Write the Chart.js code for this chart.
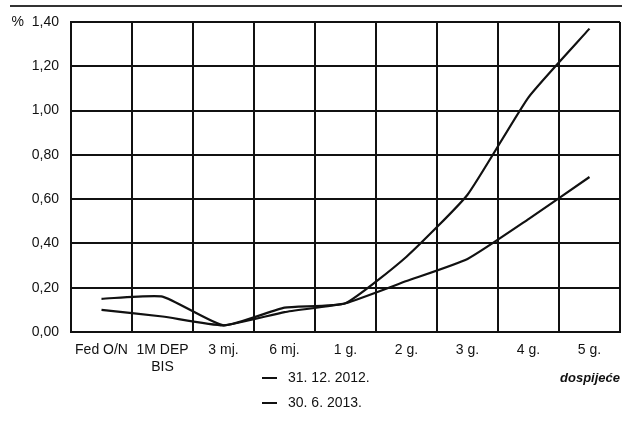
<!DOCTYPE html>
<html>
<head>
<title>Krivulja prinosa</title>
<script src="https://cdn.jsdelivr.net/npm/chart.js"></script>
<style>
body { margin: 0; background: #fff; }
#wrap { position: relative; width: 622px; height: 435px; font-family: 'Liberation Sans', Arial, sans-serif; color: #111; }
#rule { position: absolute; left: 10px; top: 5px; width: 612px; height: 2px; background: #333; }
.leg { position: absolute; left: 262px; font-size: 14px; }
.leg span { display: inline-block; width: 15px; height: 2px; background: #111; vertical-align: middle; margin-right: 11px; }
#dosp { position: absolute; right: 2px; top: 370px; font-size: 13px; font-style: italic; font-weight: bold; }
</style>
</head>
<body>
<div id="wrap">
    <canvas id="chart" width="622" height="435"></canvas>
    <div id="rule"></div>
    <div id="legenda"></div>
    <div id="dosp">dospijeće</div>
</div>
<script>
// dospijeća
var kategorije = ['Fed O/N', ['1M DEP', 'BIS'], '3 mj.', '6 mj.', '1 g.', '2 g.', '3 g.', '4 g.', '5 g.'];
// prinosi u %
var prinos2012 = [0.10, 0.07, 0.03, 0.09, 0.13, 0.23, 0.33, 0.51, 0.70];
var prinos2013 = [0.15, 0.16, 0.03, 0.11, 0.13, 0.34, 0.62, 1.06, 1.37];
var nazivi = ['31. 12. 2012.', '30. 6. 2013.'];
var yTicks = [0, 0.2, 0.4, 0.6, 0.8, 1.0, 1.2, 1.4];

var font = "'Liberation Sans', Arial, sans-serif";

// legenda
var legenda = document.getElementById('legenda');
nazivi.forEach(function(n, i) {
    var d = document.createElement('div');
    d.className = 'leg';
    d.style.top = (369 + i * 25) + 'px';
    d.innerHTML = '<span></span>' + n;
    legenda.appendChild(d);
});

var ctx = document.getElementById('chart').getContext('2d');
var chart = new Chart(ctx, {
    type: 'line',
    data: {
        labels: kategorije,
        datasets: [
            { label: nazivi[0], data: prinos2012, borderColor: '#111', borderWidth: 2.2, pointRadius: 0, tension: 0.15 },
            { label: nazivi[1], data: prinos2013, borderColor: '#111', borderWidth: 2.2, pointRadius: 0, tension: 0.15 }
        ]
    },
    options: {
        responsive: false,
        animation: false,
        layout: { padding: { top: 22, right: 2, bottom: 63, left: 0 } },
        plugins: { legend: { display: false }, tooltip: { enabled: false } },
        scales: {
            x: {
                offset: true,
                grid: { offset: true, color: '#111', lineWidth: 2, drawTicks: false },
                border: { color: '#111', width: 2 },
                ticks: { color: '#111', padding: 10, maxRotation: 0, minRotation: 0, autoSkip: false, font: { family: font, size: 14 } },
                afterFit: function(s) { s.height = 40; }
            },
            y: {
                min: 0,
                max: 1.4,
                afterBuildTicks: function(s) { s.ticks = yTicks.map(function(v) { return { value: v }; }); },
                grid: { color: '#111', lineWidth: 2, drawTicks: false },
                border: { color: '#111', width: 2 },
                ticks: {
                    color: '#111',
                    padding: 12,
                    font: { family: font, size: 14 },
                    callback: function(v) {
                        var t = Number(v).toFixed(2).replace('.', ',');
                        return v >= 1.39 ? '%  ' + t : t;
                    }
                },
                afterFit: function(s) { s.width = 71; }
            }
        }
    }
});
</script>
</body>
</html>
